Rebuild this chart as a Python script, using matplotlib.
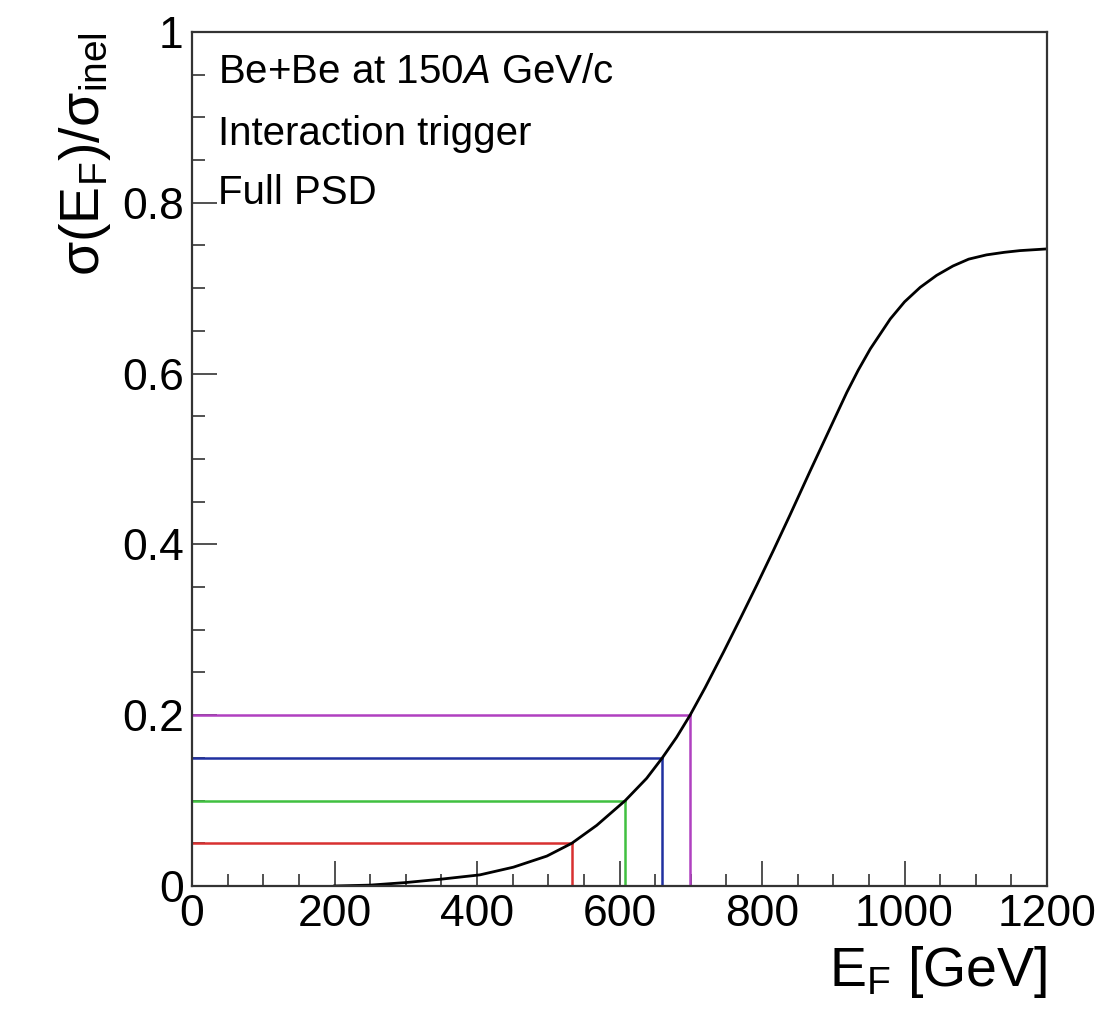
import numpy as np
import matplotlib
matplotlib.use("Agg")
import matplotlib.pyplot as plt
from matplotlib.ticker import MultipleLocator

plt.rcParams['font.family'] = ['Liberation Sans', 'DejaVu Sans']
plt.rcParams['mathtext.fontset'] = 'custom'
plt.rcParams['mathtext.rm'] = 'Liberation Sans'
plt.rcParams['mathtext.it'] = 'Liberation Sans:italic'

# forward energy vs fraction of inelastic cross section
e_forward = [200, 250, 300, 350, 404, 451, 498, 533, 568, 608, 638, 660, 680,
             699, 720, 746, 770, 793, 816, 839, 867, 886, 905, 919, 935, 952,
             980, 1000, 1022, 1045, 1068, 1090, 1115, 1140, 1162, 1200]
sigma_frac = [0.0, 0.001, 0.004, 0.008, 0.013, 0.022, 0.035, 0.05, 0.071, 0.1,
              0.126, 0.15, 0.174, 0.2, 0.232, 0.274, 0.314, 0.353, 0.393,
              0.434, 0.485, 0.519, 0.553, 0.578, 0.604, 0.629, 0.664, 0.684,
              0.701, 0.715, 0.726, 0.734, 0.739, 0.742, 0.744, 0.746]

# centrality cuts
cut_levels = [0.05, 0.10, 0.15, 0.20]
cut_energy = [533, 608, 660, 699]
cut_colors = ['#d83030', '#40c040', '#2030a0', '#b040c0']

fig = plt.figure(figsize=(11.06, 10.22), dpi=100)
ax = fig.add_axes([0.1736, 0.1331, 0.7731, 0.8356])

for lvl, ec, col in zip(cut_levels, cut_energy, cut_colors):
    ax.plot([0, ec], [lvl, lvl], color=col, lw=1.8)
    ax.plot([ec, ec], [0, lvl], color=col, lw=1.8)

ax.plot(e_forward, sigma_frac, color='black', lw=2.0)

ax.set_xlim(0, 1200)
ax.set_ylim(0, 1)
ax.xaxis.set_major_locator(MultipleLocator(200))
ax.xaxis.set_minor_locator(MultipleLocator(50))
ax.yaxis.set_major_locator(MultipleLocator(0.2))
ax.yaxis.set_minor_locator(MultipleLocator(0.05))
ax.set_yticks([0, 0.2, 0.4, 0.6, 0.8, 1.0])
ax.set_yticklabels(['0', '0.2', '0.4', '0.6', '0.8', '1'])
ax.tick_params(which='both', direction='in', top=False, right=False,
               labelsize=32, width=1.2, color='#333333')
ax.tick_params(which='major', length=18, pad=6)
ax.tick_params(which='minor', length=9)
for s in ax.spines.values():
    s.set_linewidth(1.6)
    s.set_color('#333333')

ax.set_xlabel('E$_{\\mathrm{F}}$ [GeV]', fontsize=40, loc='right', labelpad=6)
ax.set_ylabel('\u03c3(E$_{\\mathrm{F}}$)/\u03c3$_{\\mathrm{inel}}$',
              fontsize=40, loc='top', labelpad=6)

ax.text(0.03, 0.94, 'Be+Be at 150$\\mathit{A}$ GeV/c', transform=ax.transAxes,
        fontsize=29, va='baseline')
ax.text(0.03, 0.868, 'Interaction trigger', transform=ax.transAxes,
        fontsize=29, va='baseline')
ax.text(0.03, 0.799, 'Full PSD', transform=ax.transAxes,
        fontsize=29, va='baseline')

fig.savefig('out.png', dpi=100)
